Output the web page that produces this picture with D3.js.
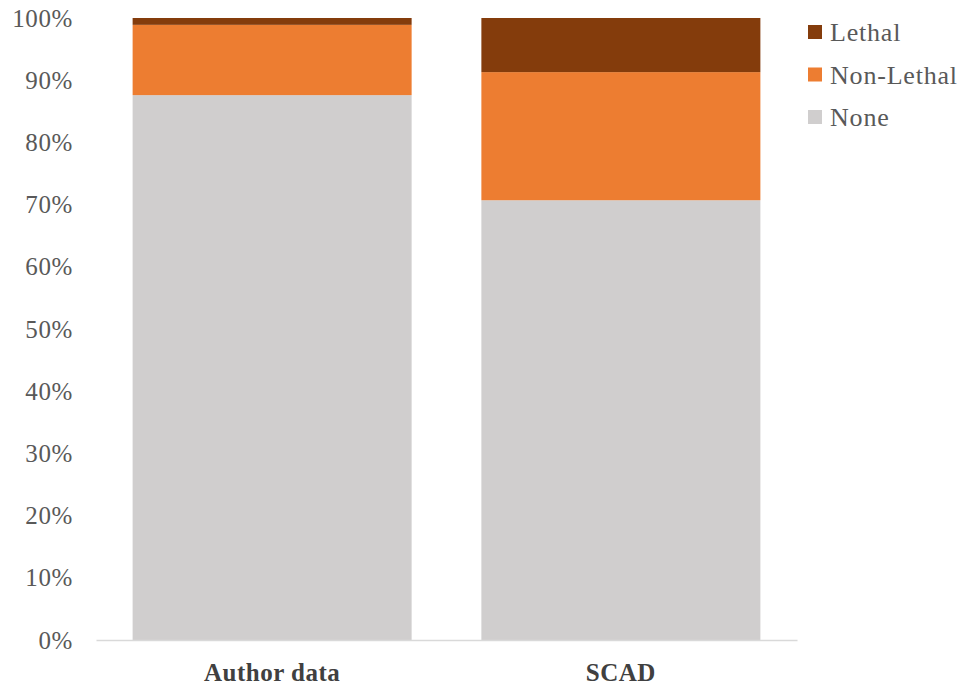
<!DOCTYPE html>
<html>
<head>
<meta charset="utf-8">
<script src="https://cdn.jsdelivr.net/npm/d3@7"></script>
<style>
  html, body { margin: 0; padding: 0; background: #ffffff; }
  svg { display: block; }
  text { font-family: "Liberation Serif", "DejaVu Serif", serif; }
</style>
</head>
<body>
<svg id="chart" width="962" height="687"></svg>
<script>
// Groups along the x axis
const categories = ["Author data", "SCAD"];
// Share of cases per outcome, in percent (stacked bottom to top)
const noneValues = [87.6, 70.7];
const nonLethalValues = [11.3, 20.6];
const lethalValues = [1.1, 8.7];
// Series order (bottom to top) and legend order (top to bottom)
const seriesKeys = ["None", "Non-Lethal", "Lethal"];
const legendKeys = ["Lethal", "Non-Lethal", "None"];
const seriesColors = ["#D0CECE", "#ED7D31", "#843C0C"];
const yTicks = [0, 10, 20, 30, 40, 50, 60, 70, 80, 90, 100];

const rows = categories.map((c, i) => ({
  category: c,
  "None": noneValues[i],
  "Non-Lethal": nonLethalValues[i],
  "Lethal": lethalValues[i]
}));

const svg = d3.select("#chart");
const margin = { left: 96, right: 165, top: 18, bottom: 47 };
const W = 962, H = 687;

const x = d3.scaleBand()
  .domain(categories)
  .range([margin.left, W - margin.right])
  .paddingInner(0.2)
  .paddingOuter(0.105);

const y = d3.scaleLinear()
  .domain([0, 100])
  .range([H - margin.bottom, margin.top]);

const color = d3.scaleOrdinal().domain(seriesKeys).range(seriesColors);

const stacked = d3.stack().keys(seriesKeys)(rows);

// Stacked bars
svg.append("g")
  .selectAll("g")
  .data(stacked)
  .join("g")
  .attr("fill", d => color(d.key))
  .selectAll("rect")
  .data(d => d)
  .join("rect")
  .attr("x", d => x(d.data.category))
  .attr("width", x.bandwidth())
  .attr("y", d => y(d[1]))
  .attr("height", d => y(d[0]) - y(d[1]));

// Y axis labels (no line, no tick marks)
const yAxis = d3.axisLeft(y)
  .tickValues(yTicks)
  .tickFormat(d => d + "%")
  .tickSize(0)
  .tickPadding(0);

const gy = svg.append("g")
  .attr("transform", `translate(${margin.left - 23},0)`)
  .call(yAxis);
gy.select(".domain").remove();
gy.selectAll("text")
  .attr("fill", "#595959")
  .style("font-size", "25px")
  .style("letter-spacing", "0.6px")
  .style("font-family", "'Liberation Serif', serif");

// X axis baseline and category labels
const xAxis = d3.axisBottom(x).tickSize(0).tickPadding(0);
const gx = svg.append("g")
  .attr("transform", `translate(0,${y(0)})`)
  .call(xAxis);
gx.select(".domain").attr("stroke", "#D9D9D9").attr("stroke-width", 1.3);
gx.selectAll("text")
  .attr("dy", "0")
  .attr("y", 41)
  .attr("fill", "#404040")
  .style("font-size", "25px")
  .style("letter-spacing", "0.5px")
  .style("font-weight", "bold")
  .style("font-family", "'Liberation Serif', serif");

// Legend
const legend = svg.append("g").attr("transform", "translate(808,32)");
const item = legend.selectAll("g")
  .data(legendKeys)
  .join("g")
  .attr("transform", (d, i) => `translate(0,${i * 42.5})`);
item.append("rect")
  .attr("x", 0)
  .attr("y", -7)
  .attr("width", 14)
  .attr("height", 14)
  .attr("fill", d => color(d));
item.append("text")
  .attr("x", 22)
  .attr("y", 0)
  .attr("dy", "0.35em")
  .attr("fill", "#595959")
  .style("font-size", "26px")
  .style("letter-spacing", "0.8px")
  .text(d => d);
</script>
</body>
</html>
